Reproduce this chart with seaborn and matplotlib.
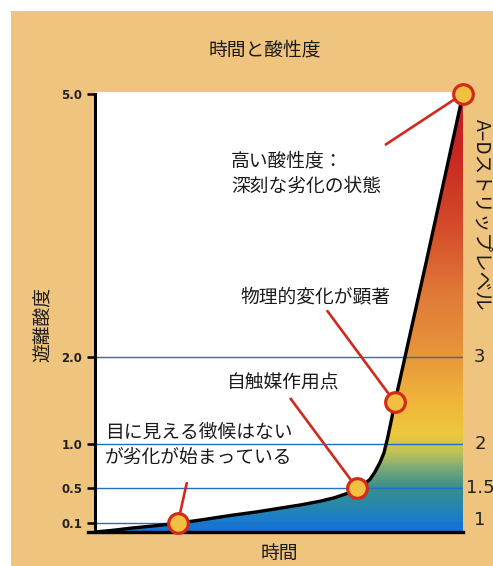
import numpy as np
import matplotlib
matplotlib.use('Agg')
import matplotlib.pyplot as plt
import seaborn as sns
import pandas as pd
from matplotlib.colors import LinearSegmentedColormap
from matplotlib import font_manager
from matplotlib.patches import Rectangle

# ---------------- data ----------------
time_x = [0, 0.5, 1.0, 1.6, 2.25, 3.0, 3.7, 4.4, 5.0, 5.6, 6.1, 6.5, 6.85, 7.12, 7.3,
          7.47, 7.6, 7.74, 7.85, 7.95, 8.05, 8.15, 8.5, 9.0, 9.5, 10.0]
acidity_y = [0, 0.02, 0.045, 0.07, 0.1, 0.145, 0.19, 0.23, 0.27, 0.31, 0.35, 0.39, 0.44, 0.5, 0.54,
             0.6, 0.68, 0.79, 0.9, 1.07, 1.27, 1.48, 2.14, 3.08, 4.04, 5.0]

marker_x = [2.25, 7.12, 8.15, 10.0]
marker_y = [0.1, 0.5, 1.48, 5.0]

leader_end_x = [2.5, 5.30, 6.30, 7.88]
leader_end_y = [0.57, 1.53, 2.53, 4.415]

acid_ticks = [0.1, 0.5, 1.0, 2.0, 5.0]
acid_tick_labels = ['0.1', '0.5', '1.0', '2.0', '5.0']
level_lines = [0.1, 0.5, 1.0, 2.0]

strip_pos = [0.14, 0.5, 1.0, 2.0]
strip_labels = ['1', '1.5', '2', '3']

notes = ['目に見える徴候はない\nが劣化が始まっている', '自触媒作用点', '物理的変化が顕著', '高い酸性度：\n深刻な劣化の状態']
note_x = [0.27, 5.11, 5.98, 3.70]
note_y = [1.0, 1.70, 2.68, 4.085]
note_ha = ['left', 'center', 'center', 'left']

title = '時間と酸性度'
xlabel = '時間'
ylabel = '遊離酸度'
rlabel = 'A–Dストリップレベル'

grad_stops = [0.0, 0.12, 0.3, 0.5, 0.7, 0.9, 1.1, 1.5, 2.0, 2.7, 3.5, 4.3, 5.0]
grad_colors = ['#1570d8', '#1a7ccc', '#2888a8', '#3a8e8c', '#78a878', '#c0c258',
               '#ecc83c', '#f0b43a', '#e8963a', '#e07a38', '#d44a2a', '#c82822', '#c01e1e']

# ---------------- style ----------------
sns.set_theme(style='white')
plt.rcParams['font.family'] = ['Noto Sans CJK JP', 'DejaVu Sans']

avail = {f.name for f in font_manager.fontManager.ttflist}
narrow = 'Liberation Sans Narrow' if 'Liberation Sans Narrow' in avail else 'DejaVu Sans'

W, H = 493, 566
fig = plt.figure(figsize=(W / 100, H / 100), dpi=100)
fig.patch.set_facecolor('white')
fig.patches.append(Rectangle((11 / W, 0), 1, (H - 11) / H, transform=fig.transFigure,
                             facecolor='#EEC47E', edgecolor='none', zorder=-10))

ax = fig.add_axes([95 / W, (H - 532) / H, 368 / W, 440 / H])
ax.set_facecolor('white')

df = pd.DataFrame({'time': time_x, 'acid': acidity_y})

# gradient fill under curve
cmap = LinearSegmentedColormap.from_list('acid', list(zip(np.array(grad_stops) / 5.0, grad_colors)))
grad = np.linspace(0, 5.0, 500).reshape(-1, 1)
im = ax.imshow(grad, extent=[0, 10, 0, 5.02], origin='lower', aspect='auto', cmap=cmap,
               vmin=0, vmax=5.0, zorder=1)
poly = ax.fill_between(time_x, acidity_y, 0, color='none', lw=0)
im.set_clip_path(poly.get_paths()[0], transform=ax.transData)

# level lines
for lv in level_lines:
    ax.axhline(lv, xmin=0, xmax=1, color='#2070c4', lw=1.0, zorder=2)

# curve
sns.lineplot(data=df, x='time', y='acid', ax=ax, color='black', lw=2.4, zorder=4,
             sort=False, estimator=None)
ax.lines[-1].set_solid_joinstyle('round')

# leader lines
for mx, my, lx, ly in zip(marker_x, marker_y, leader_end_x, leader_end_y):
    ax.plot([mx, lx], [my, ly], color='#d02a20', lw=1.9, zorder=5, clip_on=False,
            solid_capstyle='butt')

# markers
sns.scatterplot(x=marker_x, y=marker_y, ax=ax, s=200, color='#F2C040',
                edgecolor='#D42A1A', linewidth=2.3, zorder=6, clip_on=False)

# notes
for t, x, y, ha in zip(notes, note_x, note_y, note_ha):
    ax.text(x, y, t, ha=ha, va='center', fontsize=13.5, color='#1a1a1a',
            linespacing=1.25, zorder=7)

# right strip labels
for p, s in zip(strip_pos, strip_labels):
    ax.text(10.46, p, s, ha='center', va='center', fontsize=13, color='#222222',
            family=[narrow, 'DejaVu Sans'], clip_on=False)

ax.set_xlim(0, 10)
ax.set_ylim(0, 5.02)
ax.set_xlabel('')
ax.set_ylabel('')
ax.set_xticks([])
ax.set_yticks(acid_ticks)
ax.set_yticklabels(acid_tick_labels, family=[narrow, 'DejaVu Sans'], fontweight='bold',
                   fontsize=8.5, color='#222222')
ax.tick_params(axis='y', length=6, width=1.8, color='black', pad=3, left=True)

for sp in ['top', 'right']:
    ax.spines[sp].set_visible(False)
ax.spines['left'].set_color('black')
ax.spines['left'].set_linewidth(2.2)
ax.spines['left'].set_bounds(0, 5.0)
ax.spines['bottom'].set_color('black')
ax.spines['bottom'].set_linewidth(2.4)
ax.spines['bottom'].set_bounds(-0.2, 10)

# figure texts
fig.text(265 / W, 1 - 50 / H, title, ha='center', va='center', fontsize=13.5, color='#1a1a1a')
fig.text(279 / W, 1 - 553 / H, xlabel, ha='center', va='center', fontsize=13.5, color='#1a1a1a')
fig.text(43 / W, 1 - 324 / H, ylabel, ha='center', va='center', fontsize=13.5, rotation=90,
         color='#1a1a1a')
fig.text(482 / W, 1 - 215 / H, rlabel, ha='center', va='center', fontsize=14, rotation=-90,
         color='#1a1a1a')

fig.savefig('out.png', dpi=100)
